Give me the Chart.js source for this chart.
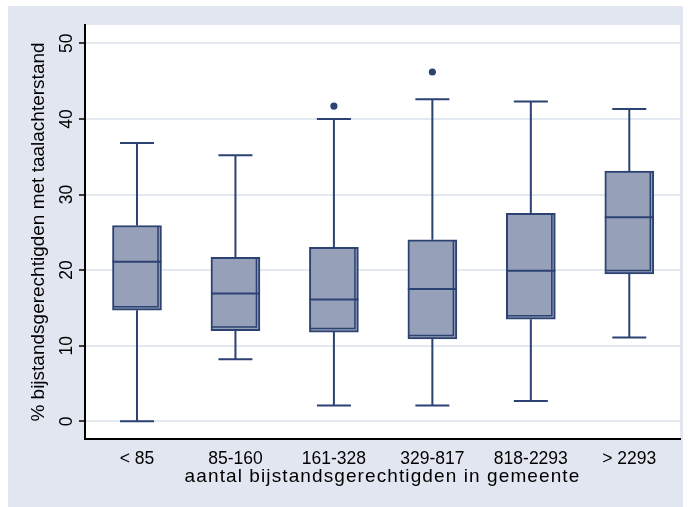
<!DOCTYPE html>
<html>
<head>
<meta charset="utf-8">
<script src="https://cdn.jsdelivr.net/npm/chart.js@4/dist/chart.umd.min.js"></script>
<style>
  html, body { margin: 0; padding: 0; background: #ffffff; }
  #wrap { width: 688px; height: 507px; }
</style>
</head>
<body>
<div id="wrap"><canvas id="c" width="688" height="507"></canvas></div>
<script>
// Groups by number of welfare recipients per municipality
const categories = ['< 85', '85-160', '161-328', '329-817', '818-2293', '> 2293'];
// Box-plot summaries (% of recipients with a language deficit)
const whiskerLow  = [0.0,  8.2,  2.1,  2.1,  2.7, 11.1];
const q1          = [14.7, 12.0, 11.8, 10.9, 13.5, 19.5];
const median      = [21.1, 16.9, 16.1, 17.5, 19.9, 27.0];
const q3          = [25.9, 21.7, 23.0, 24.0, 27.5, 33.1];
const whiskerHigh = [36.8, 35.2, 40.0, 42.6, 42.3, 41.3];
// Outside values
const outlierGroup = [2, 3];
const outlierValue = [41.7, 46.2];
// Axis ticks and titles
const yTicks = [0, 10, 20, 30, 40, 50];
const yTitle = '% bijstandsgerechtigden met taalachterstand';
const xTitle = 'aantal bijstandsgerechtigden in gemeente';

const NAVY = '#2b4272';
const BOX_FILL = '#96a1b9';
const PANEL = '#e1e6f0';
const GRID = '#e4e8f1';
const FAMILY = '"Liberation Sans", Arial, sans-serif';
const TICK_FONT = '17.5px ' + FAMILY;
const TITLE_FONT = '19px ' + FAMILY;

// Background panel and white plot region
const backgroundPlugin = {
  id: 'panel',
  beforeDraw(chart) {
    const { ctx, chartArea: a } = chart;
    ctx.save();
    ctx.fillStyle = '#ffffff';
    ctx.fillRect(0, 0, chart.width, chart.height);
    ctx.fillStyle = PANEL;
    ctx.fillRect(8, 6, 675, chart.height - 6);
    ctx.fillStyle = '#ffffff';
    ctx.fillRect(a.left, a.top, a.right - a.left, a.bottom - a.top);
    ctx.restore();
  }
};

// Whiskers behind the boxes, medians and inner edge lines on top
const boxPlugin = {
  id: 'boxparts',
  beforeDatasetsDraw(chart) {
    const { ctx, scales: { x, y } } = chart;
    ctx.save();
    ctx.strokeStyle = NAVY;
    ctx.lineWidth = 2;
    const cap = 17;
    categories.forEach((c, i) => {
      const px = x.getPixelForValue(i);
      const yl = y.getPixelForValue(whiskerLow[i]);
      const yh = y.getPixelForValue(whiskerHigh[i]);
      ctx.beginPath();
      ctx.moveTo(px, yl); ctx.lineTo(px, y.getPixelForValue(q1[i]));
      ctx.moveTo(px, y.getPixelForValue(q3[i])); ctx.lineTo(px, yh);
      ctx.moveTo(px - cap, yl); ctx.lineTo(px + cap, yl);
      ctx.moveTo(px - cap, yh); ctx.lineTo(px + cap, yh);
      ctx.stroke();
    });
    ctx.restore();
  },
  afterDatasetsDraw(chart) {
    const { ctx, scales: { y } } = chart;
    const meta = chart.getDatasetMeta(0);
    ctx.save();
    ctx.strokeStyle = NAVY;
    meta.data.forEach((bar, i) => {
      const half = bar.width / 2;
      const left = bar.x - half, right = bar.x + half;
      const top = Math.min(bar.y, bar.base), bottom = Math.max(bar.y, bar.base);
      // median
      ctx.lineWidth = 2;
      const ym = y.getPixelForValue(median[i]);
      ctx.beginPath();
      ctx.moveTo(left, ym); ctx.lineTo(right, ym);
      ctx.stroke();
      // inner edge on right and bottom
      ctx.lineWidth = 1.5;
      ctx.beginPath();
      ctx.moveTo(right - 3.5, top + 1); ctx.lineTo(right - 3.5, bottom - 3.5);
      ctx.lineTo(left + 1, bottom - 3.5);
      ctx.stroke();
    });
    ctx.restore();
  },
  afterDraw(chart) {
    const { ctx, scales: { x, y }, chartArea: a } = chart;
    ctx.save();
    ctx.fillStyle = '#000000';
    ctx.textAlign = 'center';
    ctx.textBaseline = 'alphabetic';
    // y tick labels, turned to read upwards
    ctx.font = TICK_FONT;
    yTicks.forEach(v => {
      ctx.save();
      ctx.translate(71.5, y.getPixelForValue(v));
      ctx.rotate(-Math.PI / 2);
      ctx.fillText(String(v), 0, 0);
      ctx.restore();
    });
    // category labels
    categories.forEach((c, i) => {
      ctx.fillText(c, x.getPixelForValue(i), 464);
    });
    // y title
    ctx.font = TITLE_FONT;
    ctx.save();
    ctx.translate(44, (a.top + a.bottom) / 2);
    ctx.rotate(-Math.PI / 2);
    ctx.fillText(yTitle, 0, 0);
    ctx.restore();
    // x title
    ctx.letterSpacing = '1.1px';
    ctx.fillText(xTitle, (a.left + a.right) / 2, 482);
    ctx.restore();
  }
};

new Chart(document.getElementById('c'), {
  type: 'bar',
  data: {
    datasets: [
      {
        type: 'bar',
        data: categories.map((c, i) => ({ x: i, y: [q1[i], q3[i]] })),
        backgroundColor: BOX_FILL,
        borderColor: NAVY,
        borderWidth: 2,
        borderSkipped: false,
        barThickness: 49,
        order: 2
      },
      {
        type: 'scatter',
        data: outlierGroup.map((g, k) => ({ x: g, y: outlierValue[k] })),
        backgroundColor: NAVY,
        borderWidth: 0,
        pointRadius: 3.6,
        order: 1
      }
    ]
  },
  options: {
    responsive: false,
    animation: false,
    devicePixelRatio: 1,
    layout: { padding: { left: 0, top: 25, right: 8, bottom: 0 } },
    plugins: { legend: { display: false }, tooltip: { enabled: false } },
    scales: {
      x: {
        type: 'linear',
        offset: false,
        min: -0.528,
        max: 5.515,
        grid: { display: false },
        ticks: { display: false },
        border: { display: true, color: '#000000', width: 2 },
        afterFit(s) { s.height = 68; }
      },
      y: {
        min: -2.34,
        max: 52.42,
        afterBuildTicks(s) { s.ticks = yTicks.map(v => ({ value: v })); },
        ticks: { display: false },
        grid: { color: GRID, lineWidth: 2, tickColor: '#000000', tickLength: 6, tickWidth: 1.5 },
        border: { display: true, color: '#000000', width: 2 },
        afterFit(s) { s.width = 85; }
      }
    }
  },
  plugins: [backgroundPlugin, boxPlugin]
});
</script>
</body>
</html>
